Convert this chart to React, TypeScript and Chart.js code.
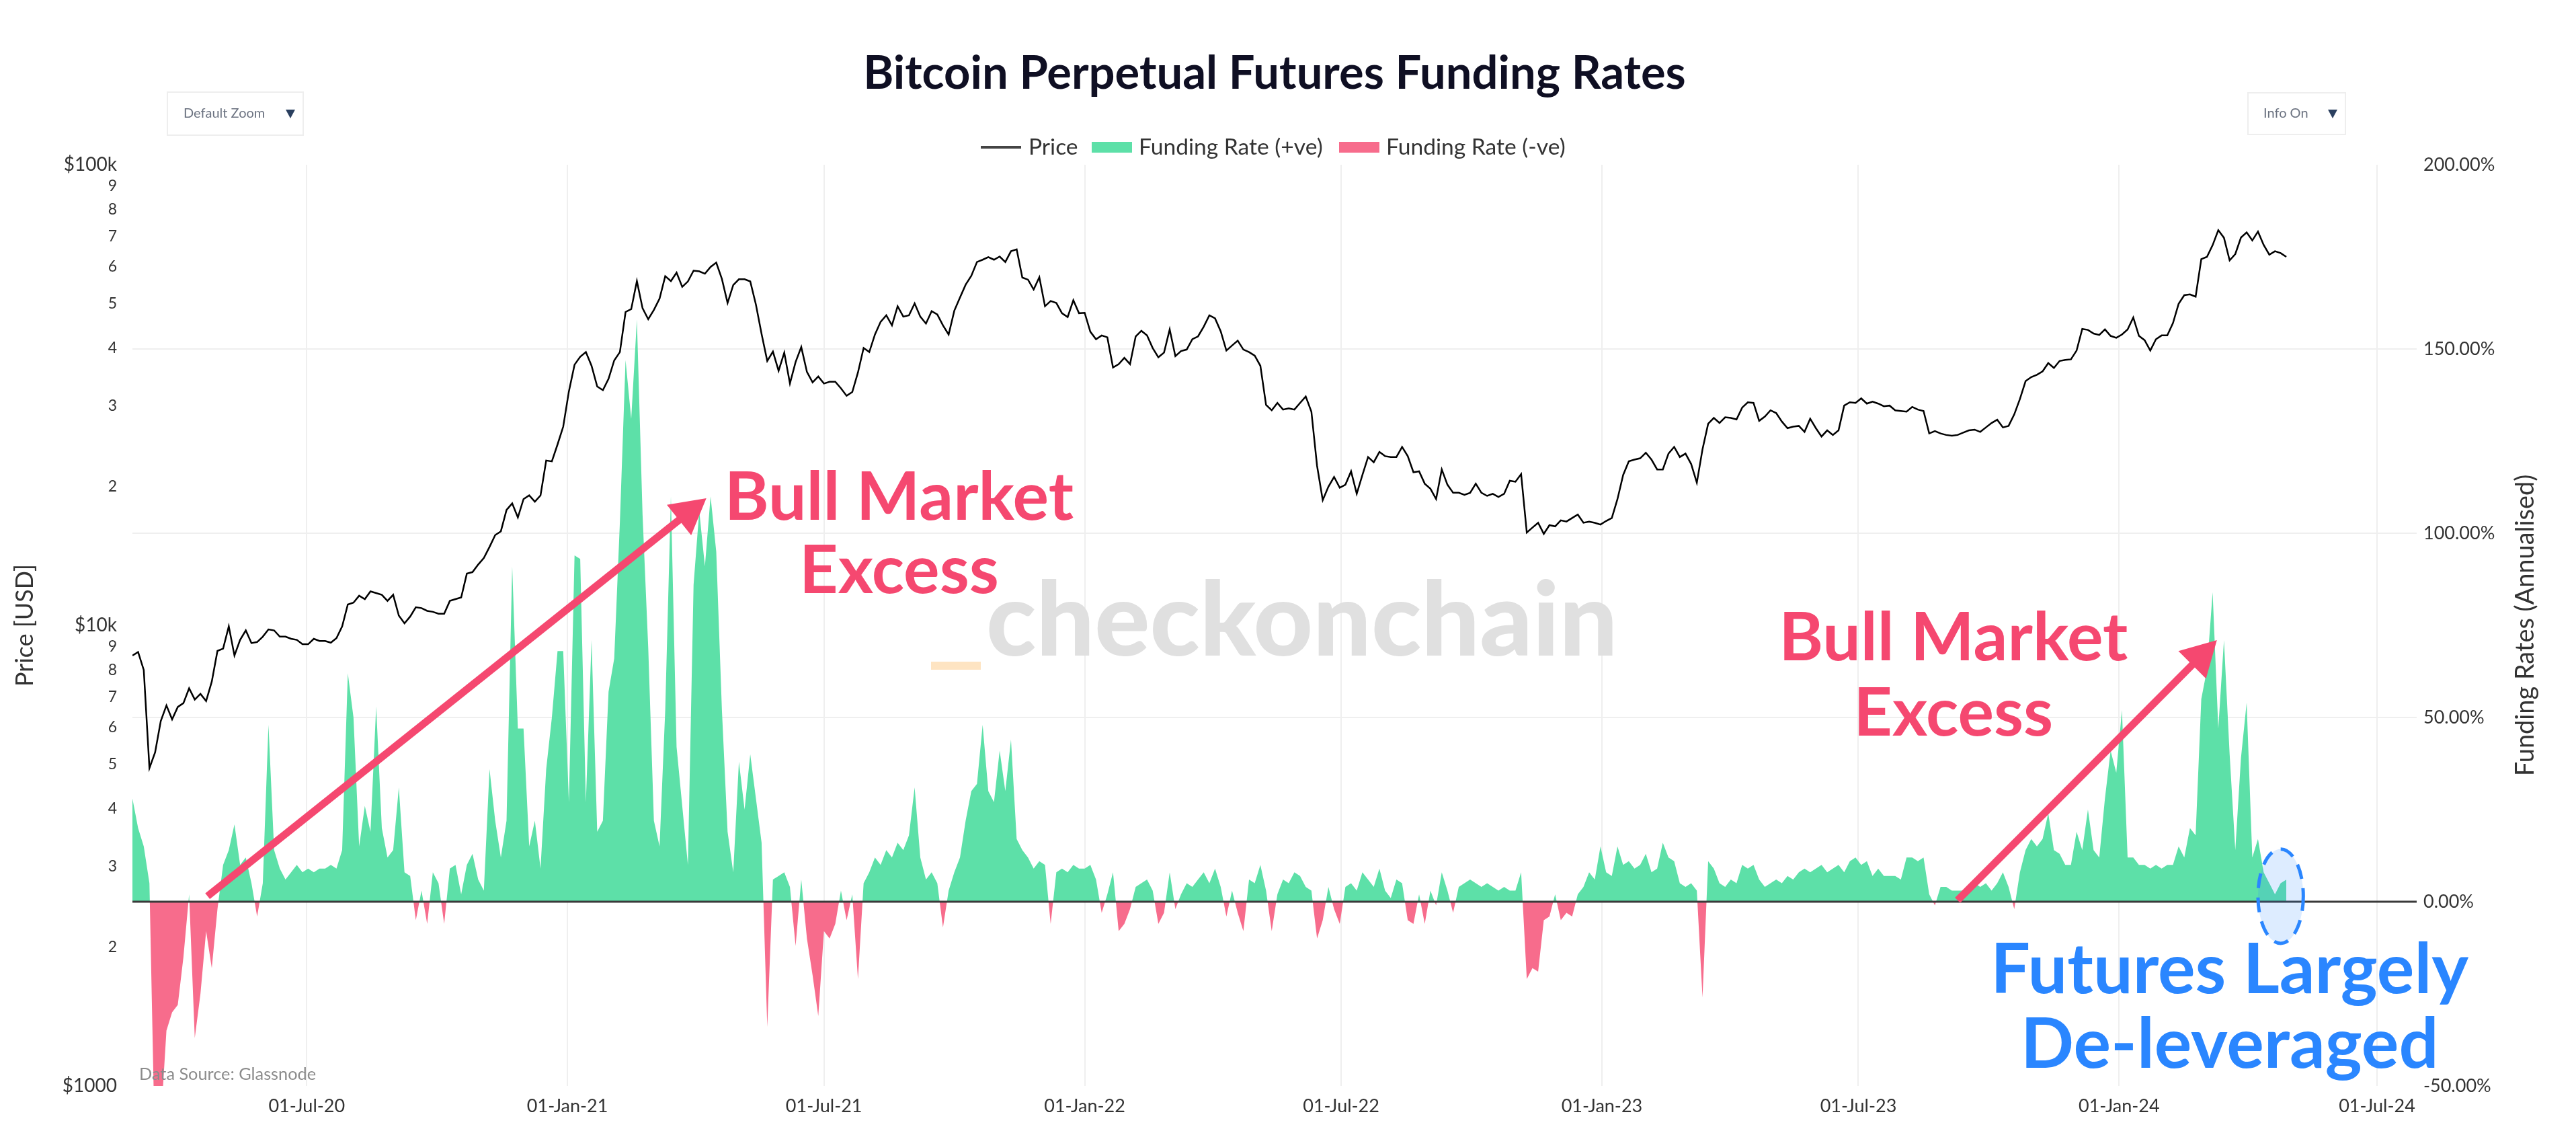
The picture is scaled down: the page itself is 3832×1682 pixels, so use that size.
import React, { useEffect, useRef } from 'react';
import { Chart, registerables } from 'chart.js';

Chart.register(...registerables);

const W = 3832;
const H = 1682;
const DAY = 86400000;

// ---------- data ----------
const SERIES_START = '2020-02-29';
const STEP_DAYS = 4;
const X_RANGE = ['2020-02-29', '2024-07-29'];

const xTickDates = [
  '2020-07-01', '2021-01-01', '2021-07-01', '2022-01-01', '2022-07-01',
  '2023-01-01', '2023-07-01', '2024-01-01', '2024-07-01',
];
const priceTickValues = [
  1000, 2000, 3000, 4000, 5000, 6000, 7000, 8000, 9000,
  10000, 20000, 30000, 40000, 50000, 60000, 70000, 80000, 90000, 100000,
];
const rateTickValues = [-50, 0, 50, 100, 150, 200];

// BTC price (USD), one value every 4 days from 2020-02-29
const priceUsd = [
  // 2020 Mar
  8600, 8750, 8000, 4900, 5300, 6200, 6700, 6250,
  // Apr
  6650, 6780, 7300, 6900, 7100, 6850, 7550, 8800,
  // May
  8900, 9950, 8600, 9300, 9750, 9150, 9200, 9450,
  // Jun
  9800, 9750, 9450, 9450, 9350, 9300, 9100,
  // Jul
  9100, 9350, 9250, 9250, 9170, 9380, 9950, 11100,
  // Aug
  11200, 11600, 11400, 11850, 11750, 11650, 11300, 11650,
  // Sep
  10500, 10100, 10450, 10950, 10900, 10750, 10700,
  // Oct
  10600, 10600, 11300, 11400, 11500, 12950, 13050, 13550,
  // Nov
  14000, 14800, 15700, 16000, 17800, 18400, 17150,
  // Dec
  18800, 19150, 18550, 19150, 22800, 22700, 24700, 27000,
  // 2021 Jan
  32200, 36800, 38300, 39200, 36600, 33000, 32400, 34300,
  // Feb
  37600, 39200, 47900, 48600, 55900, 48800, 46200,
  // Mar
  48400, 51200, 57300, 55900, 58300, 54300, 55800, 58900,
  // Apr
  58700, 58000, 60000, 61300, 56500, 50100, 54800,
  // May
  56400, 56400, 55800, 49700, 42900, 37500, 39300, 35700,
  // Jun
  39100, 33500, 37300, 40200, 35500, 33700, 34700,
  // Jul
  33500, 33800, 33800, 32700, 31500, 32100, 35400, 40000,
  // Aug
  39200, 42800, 45600, 47100, 44800, 49300, 46800, 47100,
  // Sep
  50000, 46800, 45200, 48100, 47300, 44800, 42800,
  // Oct
  48200, 51500, 54900, 57400, 61500, 62200, 63000, 62200,
  // Nov
  63200, 61500, 64900, 65500, 56900, 56300, 53600, 57000,
  // Dec
  49300, 50600, 50100, 47600, 46700, 50800, 47600,
  // 2022 Jan
  47700, 43400, 41800, 42600, 42200, 36300, 36900, 38100,
  // Feb
  36900, 42400, 43600, 42600, 40000, 38200, 39100,
  // Mar
  43900, 38400, 39400, 39700, 41800, 42400, 44500, 47100,
  // Apr
  46400, 43500, 39500, 40500, 41500, 39700, 39200,
  // May
  38500, 36600, 30100, 29300, 30400, 29400, 29600, 29400,
  // Jun
  30400, 31400, 29100, 22200, 18700, 20000, 21000, 19900,
  // Jul
  20200, 21600, 19300, 21200, 23200, 22600, 23800,
  // Aug
  23300, 23200, 23200, 24400, 23300, 21500, 21600, 20300,
  // Sep
  19800, 18800, 21800, 20200, 19400, 19400, 19200, 19400,
  // Oct
  20300, 19400, 19100, 19300, 19000, 19300, 20600,
  // Nov
  20500, 21300, 15900, 16300, 16700, 15800, 16500, 16400,
  // Dec
  16900, 16800, 17100, 17400, 16700, 16800, 16700, 16550,
  // 2023 Jan
  16850, 17100, 18800, 21200, 22700, 22900, 23050,
  // Feb
  23700, 22900, 21800, 21800, 23600, 24400, 23200,
  // Mar
  23600, 22400, 20400, 24100, 27400, 28200, 27500, 28300,
  // Apr
  28200, 28000, 29700, 30500, 30400, 27800, 28400, 29300,
  // May
  28900, 27700, 26800, 27000, 27100, 26300, 28100,
  // Jun
  26800, 25700, 26500, 25900, 26500, 30000, 30500, 30400,
  // Jul
  31100, 30300, 30600, 30300, 29900, 30000, 29300, 29200,
  // Aug
  29100, 29800, 29400, 29200, 26100, 26400, 26100,
  // Sep
  25900, 25800, 25900, 26200, 26500, 26600, 26300, 26900,
  // Oct
  27500, 27950, 26900, 27100, 28700, 31000, 33900, 34600,
  // Nov
  35000, 35600, 37100, 36200, 37500, 37700, 37800,
  // Dec
  39500, 44000, 43800, 43000, 42700, 43900, 42500, 42100,
  // 2024 Jan
  42800, 43900, 46600, 42500, 41600, 39500, 41800, 42600,
  // Feb
  42600, 45300, 49900, 52100, 52300, 51700, 62400,
  // Mar
  63100, 66900, 72100, 69400, 62000, 64000, 69500, 71300,
  // Apr
  68500, 71600, 67000, 63800, 64900, 64300, 63100,
];

// Annualised perpetual funding rate (%), one value every 4 days from 2020-02-29
const fundingRatePct = [
  // 2020 Mar
  28, 20, 15, 5, -70, -60, -35, -30,
  // Apr
  -28, -15, 2, -37, -25, -8, -18, -2,
  // May
  10, 14, 21, 10, 12, 5, -4, 5,
  // Jun
  48, 14, 9, 6, 8, 10, 8,
  // Jul
  9, 8, 9, 9, 10, 9, 14, 62,
  // Aug
  50, 15, 26, 19, 53, 20, 12, 14,
  // Sep
  31, 8, 7, -5, 3, -6, 8,
  // Oct
  5, -6, 9, 10, 2, 10, 13, 6,
  // Nov
  3, 36, 22, 12, 22, 91, 47,
  // Dec
  47, 15, 22, 9, 36, 50, 68, 68,
  // 2021 Jan
  27, 94, 93, 27, 71, 19, 22, 57,
  // Feb
  66, 103, 147, 131, 158, 105, 69,
  // Mar
  22, 15, 52, 110, 42, 26, 10, 86,
  // Apr
  106, 91, 110, 95, 52, 19, 8,
  // May
  38, 25, 40, 28, 16, -34, 6, 7,
  // Jun
  8, 4, -12, 6, -10, -20, -31,
  // Jul
  -8, -10, -6, 3, -5, 2, -21, 5,
  // Aug
  8, 12, 10, 14, 12, 16, 14, 18,
  // Sep
  31, 12, 6, 8, 5, -7, 3,
  // Oct
  8, 12, 22, 30, 32, 48, 30, 27,
  // Nov
  41, 30, 44, 17, 14, 12, 9, 11,
  // Dec
  10, -6, 8, 9, 8, 10, 9,
  // 2022 Jan
  9, 10, 6, -3, 2, 8, -8, -6,
  // Feb
  -2, 4, 5, 6, 3, -6, -3,
  // Mar
  8, -2, 2, 5, 4, 6, 8, 5,
  // Apr
  9, 4, -4, 3, -3, -8, 6,
  // May
  5, 10, 3, -8, 2, 6, 5, 8,
  // Jun
  7, 4, 3, -10, -5, 4, -2, -6,
  // Jul
  4, 5, 3, 8, 6, 4, 9,
  // Aug
  3, 1, 6, 5, -5, -6, 2, -6,
  // Sep
  3, -1, 8, 3, -3, 4, 5, 6,
  // Oct
  5, 4, 5, 4, 3, 4, 3,
  // Nov
  3, 8, -21, -18, -19, -5, -4, 2,
  // Dec
  -5, -3, -4, 2, 4, 8, 6, 15,
  // 2023 Jan
  8, 7, 15, 10, 11, 9, 10,
  // Feb
  13, 8, 9, 16, 12, 11, 5,
  // Mar
  4, 5, 3, -26, 11, 9, 5, 4,
  // Apr
  6, 5, 10, 9, 10, 6, 4, 5,
  // May
  6, 5, 7, 6, 8, 9, 8,
  // Jun
  9, 10, 8, 9, 10, 8, 11, 12,
  // Jul
  10, 11, 7, 9, 7, 7, 7, 6,
  // Aug
  12, 12, 11, 12, 2, -1, 4,
  // Sep
  4, 3, 3, 3, 4, 5, 4, 5,
  // Oct
  3, 5, 8, 4, -2, 8, 14, 17,
  // Nov
  15, 17, 24, 14, 13, 10, 10,
  // Dec
  19, 14, 25, 14, 12, 28, 41, 35,
  // 2024 Jan
  52, 12, 12, 10, 10, 9, 10, 9,
  // Feb
  10, 10, 15, 12, 20, 18, 55,
  // Mar
  63, 84, 47, 71, 40, 14, 39, 54,
  // Apr
  12, 17, 8, 5, 2, 5, 6,
];

// ---------- annotations (in data units: date, funding %) ----------
const arrowNotes = [
  { from: ['2020-04-22', 1.5], to: ['2021-04-09', 109.5] },
  { from: ['2023-09-09', 0.4], to: ['2024-03-10', 71] },
];
const textNotes = [
  { at: '2021-08-23', lines: ['Bull Market', 'Excess'], baselines: [103.7, 83.7], color: 'rgb(245,72,112)', fitWidth: 519 },
  { at: '2023-09-06', lines: ['Bull Market', 'Excess'], baselines: [65.6, 45.0], color: 'rgb(245,72,112)', fitWidth: 519 },
  { at: '2024-03-19', lines: ['Futures Largely', 'De-leveraged'], baselines: [-24.9, -45.0], color: 'rgb(42,134,255)', fitWidth: 711 },
];
const ellipseNote = { from: ['2024-04-08', -11.3], to: ['2024-05-10', 14.3] };

// ---------- styles ----------
const GREEN = 'rgb(93,224,168)';
const PINK = 'rgb(247,108,140)';
const FONT = 'Lato';
const MONTHS = ['Jan', 'Feb', 'Mar', 'Apr', 'May', 'Jun', 'Jul', 'Aug', 'Sep', 'Oct', 'Nov', 'Dec'];

const t = (s: string) => Date.parse(s);

function fitFont(ctx: CanvasRenderingContext2D, text: string, weight: string, size: number, target: number) {
  ctx.font = `${weight} ${size}px ${FONT}`;
  const w = ctx.measureText(text).width || 1;
  const s = size * target / w;
  return `${weight} ${s.toFixed(1)}px ${FONT}`;
}

function drawArrow(ctx: CanvasRenderingContext2D, x1: number, y1: number, x2: number, y2: number, color: string) {
  const lw = 11, headLen = 52, headW = 58;
  const ang = Math.atan2(y2 - y1, x2 - x1);
  const bx = x2 - headLen * Math.cos(ang);
  const by = y2 - headLen * Math.sin(ang);
  ctx.save();
  ctx.strokeStyle = color;
  ctx.fillStyle = color;
  ctx.lineWidth = lw;
  ctx.lineCap = 'butt';
  ctx.beginPath();
  ctx.moveTo(x1, y1);
  ctx.lineTo(bx + 2 * Math.cos(ang), by + 2 * Math.sin(ang));
  ctx.stroke();
  ctx.beginPath();
  ctx.moveTo(x2, y2);
  ctx.lineTo(bx + (headW / 2) * Math.sin(ang), by - (headW / 2) * Math.cos(ang));
  ctx.lineTo(bx - (headW / 2) * Math.sin(ang), by + (headW / 2) * Math.cos(ang));
  ctx.closePath();
  ctx.fill();
  ctx.restore();
}

function drawButton(ctx: CanvasRenderingContext2D, x: number, y: number, w: number, h: number, label: string, textX: number, arrowX: number) {
  ctx.save();
  ctx.fillStyle = '#ffffff';
  ctx.strokeStyle = '#eeeeee';
  ctx.lineWidth = 2;
  ctx.beginPath();
  ctx.rect(x, y, w, h);
  ctx.fill();
  ctx.stroke();
  ctx.font = `20px ${FONT}`;
  ctx.fillStyle = '#6b7280';
  ctx.textAlign = 'left';
  ctx.textBaseline = 'middle';
  ctx.fillText(label, textX, y + h / 2);
  ctx.fillStyle = '#2a3f5f';
  ctx.beginPath();
  ctx.moveTo(arrowX - 7, y + h / 2 - 6);
  ctx.lineTo(arrowX + 7, y + h / 2 - 6);
  ctx.lineTo(arrowX, y + h / 2 + 7);
  ctx.closePath();
  ctx.fill();
  ctx.restore();
}

const overlayPlugin = {
  id: 'overlay',
  beforeDatasetsDraw(chart: any) {
    const { ctx, chartArea } = chart;
    const cx = (chartArea.left + chartArea.right) / 2;
    const cy = (chartArea.top + chartArea.bottom) / 2;
    ctx.save();
    const f = fitFont(ctx, 'checkonchain', '900', 150, 940);
    ctx.font = f;
    ctx.fillStyle = 'rgb(224,224,224)';
    ctx.textAlign = 'left';
    ctx.textBaseline = 'alphabetic';
    const textLeft = cx - 1022 / 2 + 82;
    ctx.fillText('checkonchain', textLeft, cy + 45);
    ctx.fillStyle = 'rgb(254,228,194)';
    ctx.fillRect(textLeft - 82, cy + 54, 74, 12);
    ctx.restore();
  },
  afterDatasetsDraw(chart: any) {
    const { ctx, chartArea, scales } = chart;
    const y0 = scales.y2.getPixelForValue(0);
    ctx.save();
    ctx.strokeStyle = '#3a3a3a';
    ctx.lineWidth = 3;
    ctx.beginPath();
    ctx.moveTo(chartArea.left, y0);
    ctx.lineTo(chartArea.right, y0);
    ctx.stroke();
    ctx.restore();
  },
  afterDraw(chart: any) {
    const { ctx, chartArea, scales } = chart;
    const sx = (d: string) => scales.x.getPixelForValue(t(d));
    const sy = (v: number) => scales.y2.getPixelForValue(v);
    const midX = (chartArea.left + chartArea.right) / 2;
    const midY = (chartArea.top + chartArea.bottom) / 2;

    // title
    ctx.save();
    ctx.font = fitFont(ctx, 'Bitcoin Perpetual Futures Funding Rates', 'bold', 62, 1223);
    ctx.fillStyle = '#0f0f23';
    ctx.textAlign = 'center';
    ctx.textBaseline = 'alphabetic';
    ctx.fillText('Bitcoin Perpetual Futures Funding Rates', midX, 132);
    ctx.restore();

    // legend
    ctx.save();
    const ly = 219;
    const lf = fitFont(ctx, 'Funding Rate (+ve)', 'normal', 30, 274);
    ctx.font = lf;
    ctx.textBaseline = 'middle';
    ctx.textAlign = 'left';
    ctx.strokeStyle = '#444';
    ctx.lineWidth = 4;
    ctx.beginPath();
    ctx.moveTo(1459, ly);
    ctx.lineTo(1519, ly);
    ctx.stroke();
    ctx.fillStyle = '#333';
    ctx.fillText('Price', 1530, ly);
    ctx.fillStyle = GREEN;
    ctx.fillRect(1624, ly - 8, 60, 16);
    ctx.fillStyle = '#333';
    ctx.fillText('Funding Rate (+ve)', 1694, ly);
    ctx.fillStyle = PINK;
    ctx.fillRect(1992, ly - 8, 60, 16);
    ctx.fillStyle = '#333';
    ctx.fillText('Funding Rate (-ve)', 2062, ly);
    ctx.restore();

    // buttons
    drawButton(ctx, 249, 137, 202, 64, 'Default Zoom', 273, 432);
    drawButton(ctx, 3344, 138, 145, 62, 'Info On', 3367, 3470);

    // axis titles
    ctx.save();
    ctx.fillStyle = '#333';
    ctx.textAlign = 'center';
    ctx.textBaseline = 'middle';
    ctx.font = fitFont(ctx, 'Price [USD]', 'normal', 30, 182);
    ctx.translate(37, midY);
    ctx.rotate(-Math.PI / 2);
    ctx.fillText('Price [USD]', 0, 0);
    ctx.restore();
    ctx.save();
    ctx.fillStyle = '#333';
    ctx.textAlign = 'center';
    ctx.textBaseline = 'middle';
    ctx.font = fitFont(ctx, 'Funding Rates (Annualised)', 'normal', 32, 449);
    ctx.translate(3757, midY);
    ctx.rotate(-Math.PI / 2);
    ctx.fillText('Funding Rates (Annualised)', 0, 0);
    ctx.restore();

    // data source
    ctx.save();
    ctx.font = fitFont(ctx, 'Data Source: Glassnode', 'normal', 23, 263);
    ctx.fillStyle = '#8c8c8c';
    ctx.textAlign = 'left';
    ctx.textBaseline = 'alphabetic';
    ctx.fillText('Data Source: Glassnode', chartArea.left + 10, chartArea.bottom - 9);
    ctx.restore();

    // ellipse
    ctx.save();
    const ex1 = sx(ellipseNote.from[0] as string), ex2 = sx(ellipseNote.to[0] as string);
    const ey1 = sy(ellipseNote.from[1] as number), ey2 = sy(ellipseNote.to[1] as number);
    ctx.beginPath();
    ctx.ellipse((ex1 + ex2) / 2, (ey1 + ey2) / 2, Math.abs(ex2 - ex1) / 2, Math.abs(ey2 - ey1) / 2, 0, 0, Math.PI * 2);
    ctx.fillStyle = 'rgba(42,134,255,0.16)';
    ctx.fill();
    ctx.setLineDash([22, 14]);
    ctx.lineWidth = 5;
    ctx.strokeStyle = 'rgb(42,134,255)';
    ctx.stroke();
    ctx.restore();

    // arrows
    arrowNotes.forEach((a) => {
      drawArrow(ctx, sx(a.from[0] as string), sy(a.from[1] as number), sx(a.to[0] as string), sy(a.to[1] as number), 'rgb(245,72,112)');
    });

    // texts
    textNotes.forEach((n) => {
      ctx.save();
      ctx.font = fitFont(ctx, n.lines[0], 'bold', 100, n.fitWidth);
      ctx.fillStyle = n.color;
      ctx.textAlign = 'center';
      ctx.textBaseline = 'alphabetic';
      const x = sx(n.at);
      n.lines.forEach((line, i) => ctx.fillText(line, x, sy(n.baselines[i])));
      ctx.restore();
    });
  },
};

function fmtDate(v: number) {
  const d = new Date(v);
  return `${String(d.getUTCDate()).padStart(2, '0')}-${MONTHS[d.getUTCMonth()]}-${String(d.getUTCFullYear()).slice(2)}`;
}

function fmtPrice(v: number) {
  if (v === 1000) return '$1000';
  if (v === 10000) return '$10k';
  if (v === 100000) return '$100k';
  const p = Math.pow(10, Math.floor(Math.log10(v) + 1e-9));
  return String(Math.round(v / p));
}

export default function App() {
  const ref = useRef<HTMLCanvasElement | null>(null);

  useEffect(() => {
    document.body.style.margin = '0';
    const start = t(SERIES_START);
    const priceData = priceUsd.map((v, i) => ({ x: start + i * STEP_DAYS * DAY, y: v }));
    const fundingData = fundingRatePct.map((v, i) => ({ x: start + i * STEP_DAYS * DAY, y: v }));
    const isMajor = (v: number) => v === 1000 || v === 10000 || v === 100000;

    const chart = new Chart(ref.current as HTMLCanvasElement, {
      type: 'line',
      data: {
        datasets: [
          {
            label: 'Price',
            data: priceData,
            yAxisID: 'y',
            borderColor: '#000000',
            borderWidth: 2.5,
            pointRadius: 0,
            tension: 0,
            fill: false,
          },
          {
            label: 'Funding Rate',
            data: fundingData,
            yAxisID: 'y2',
            borderColor: 'rgba(0,0,0,0)',
            borderWidth: 1,
            pointRadius: 0,
            tension: 0,
            fill: { target: { value: 0 }, above: GREEN, below: PINK },
          } as any,
        ],
      },
      options: {
        animation: false,
        responsive: false,
        maintainAspectRatio: false,
        devicePixelRatio: 1,
        events: [],
        layout: { padding: { top: 245, left: 0, right: 0, bottom: 0 } },
        plugins: {
          legend: { display: false },
          title: { display: false },
          tooltip: { enabled: false },
        },
        scales: {
          x: {
            type: 'linear',
            min: t(X_RANGE[0]),
            max: t(X_RANGE[1]),
            afterBuildTicks: (s: any) => { s.ticks = xTickDates.map((d) => ({ value: t(d) })); },
            afterFit: (s: any) => { s.height = H - 1615; },
            ticks: {
              callback: (v: any) => fmtDate(Number(v)),
              font: { family: FONT, size: 27 },
              color: '#333',
              maxRotation: 0,
              autoSkip: false,
              padding: 14,
            },
            grid: { color: '#efefef', lineWidth: 2, drawTicks: false },
            border: { display: false },
          },
          y: {
            type: 'logarithmic',
            position: 'left',
            min: 1000,
            max: 100000,
            afterBuildTicks: (s: any) => { s.ticks = priceTickValues.map((v) => ({ value: v })); },
            afterFit: (s: any) => { s.width = 197; },
            ticks: {
              callback: (v: any) => fmtPrice(Number(v)),
              font: (c: any) => ({ family: FONT, size: c.tick && isMajor(c.tick.value) ? 28 : 23 }),
              color: '#333',
              autoSkip: false,
              padding: 15,
            },
            grid: { display: false },
            border: { display: false },
          },
          y2: {
            type: 'linear',
            position: 'right',
            min: -50,
            max: 200,
            afterBuildTicks: (s: any) => { s.ticks = rateTickValues.map((v) => ({ value: v })); },
            afterFit: (s: any) => { s.width = W - 3595; },
            ticks: {
              callback: (v: any) => `${Number(v).toFixed(2)}%`,
              font: { family: FONT, size: 27 },
              color: '#333',
              autoSkip: false,
              padding: 10,
            },
            grid: {
              color: (c: any) => (c.tick && (c.tick.value === 200 || c.tick.value === -50) ? 'rgba(0,0,0,0)' : '#efefef'),
              lineWidth: 2,
              drawTicks: false,
            },
            border: { display: false },
          },
        },
      } as any,
      plugins: [overlayPlugin],
    });
    return () => chart.destroy();
  }, []);

  return (
    <div style={{ width: W, height: H, position: 'relative', background: '#ffffff' }}>
      <canvas ref={ref} width={W} height={H} style={{ width: W, height: H, display: 'block' }} />
    </div>
  );
}
